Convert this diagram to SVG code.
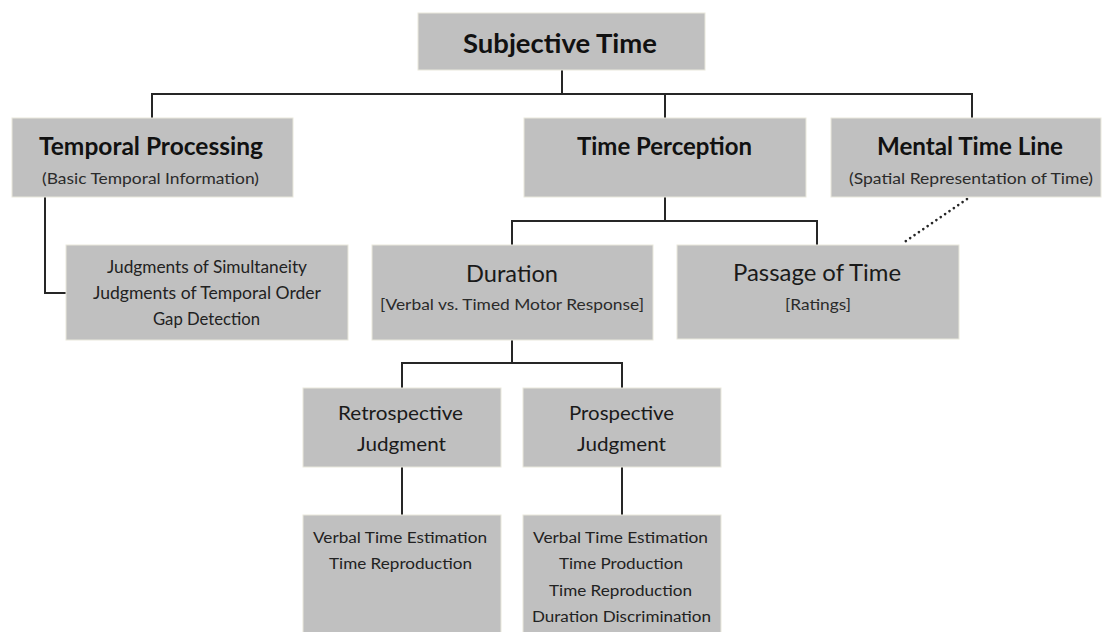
<svg xmlns="http://www.w3.org/2000/svg" width="1105" height="632" viewBox="0 0 1105 632">
<style>
.box{fill:#c0c0c0;stroke:#e9e8dc;stroke-width:1}
.conn{fill:none;stroke:#262626;stroke-width:2}
.dot{fill:none;stroke:#262626;stroke-width:2.6;stroke-linecap:round;stroke-dasharray:0.1 5.2}
text{font-family:Lato,"Open Sans","Liberation Sans",sans-serif;text-anchor:middle}
.h1{font-size:27px;font-weight:bold;fill:#111}
.h2{font-size:24px;font-weight:bold;fill:#111}
.sub{font-size:16px;fill:#2b2b2b}
.big{font-size:23px;fill:#1a1a1a}
.mid{font-size:20px;fill:#1a1a1a}
.item{font-size:17px;fill:#222}
.small{font-size:15.5px;fill:#222}
</style>
<rect width="1105" height="632" fill="#ffffff"/>
<g id="connectors">
<path class="conn" d="M562 70V94M152 118V94H972V118M665 94V118"/>
<path class="conn" d="M45 197V293H66"/>
<path class="conn" d="M665 197V221M512 245V221H817V245"/>
<path class="dot" d="M967 199L903 243"/>
<path class="conn" d="M512 340V363M402 388V363H622V388"/>
<path class="conn" d="M402 467V515M622 467V515"/>
</g>
<g id="subjective-time">
<rect class="box" x="418" y="13" width="287" height="57"/>
<text class="h1" x="560" y="53" textLength="194" lengthAdjust="spacingAndGlyphs">Subjective Time</text>
</g>
<g id="temporal-processing">
<rect class="box" x="12" y="118" width="281" height="79"/>
<text class="h2" x="151" y="155" textLength="224" lengthAdjust="spacingAndGlyphs">Temporal Processing</text>
<text class="sub" x="150.5" y="184" textLength="217" lengthAdjust="spacingAndGlyphs">(Basic Temporal Information)</text>
</g>
<g id="time-perception">
<rect class="box" x="524" y="118" width="282" height="79"/>
<text class="h2" x="664.5" y="155" textLength="175" lengthAdjust="spacingAndGlyphs">Time Perception</text>
</g>
<g id="mental-time-line">
<rect class="box" x="831" y="118" width="270" height="79"/>
<text class="h2" x="970" y="155" textLength="186" lengthAdjust="spacingAndGlyphs">Mental Time Line</text>
<text class="sub" x="971" y="184" textLength="244" lengthAdjust="spacingAndGlyphs">(Spatial Representation of Time)</text>
</g>
<g id="temporal-tasks">
<rect class="box" x="66" y="245" width="282" height="95"/>
<text class="item" x="207" y="273" textLength="200" lengthAdjust="spacingAndGlyphs">Judgments of Simultaneity</text>
<text class="item" x="207" y="299" textLength="228" lengthAdjust="spacingAndGlyphs">Judgments of Temporal Order</text>
<text class="item" x="206.5" y="325" textLength="107" lengthAdjust="spacingAndGlyphs">Gap Detection</text>
</g>
<g id="duration">
<rect class="box" x="372" y="245" width="281" height="95"/>
<text class="big" x="512" y="282" textLength="92" lengthAdjust="spacingAndGlyphs">Duration</text>
<text class="sub" x="512" y="310" textLength="264" lengthAdjust="spacingAndGlyphs">[Verbal vs. Timed Motor Response]</text>
</g>
<g id="passage-of-time">
<rect class="box" x="677" y="245" width="282" height="94"/>
<text class="big" x="817" y="281" textLength="168" lengthAdjust="spacingAndGlyphs">Passage of Time</text>
<text class="sub" x="818" y="310" textLength="66" lengthAdjust="spacingAndGlyphs">[Ratings]</text>
</g>
<g id="retrospective-judgment">
<rect class="box" x="303" y="388" width="198" height="79"/>
<text class="mid" x="400.5" y="420" textLength="125" lengthAdjust="spacingAndGlyphs">Retrospective</text>
<text class="mid" x="401.5" y="451" textLength="89" lengthAdjust="spacingAndGlyphs">Judgment</text>
</g>
<g id="prospective-judgment">
<rect class="box" x="523" y="388" width="198" height="79"/>
<text class="mid" x="621.5" y="420" textLength="105" lengthAdjust="spacingAndGlyphs">Prospective</text>
<text class="mid" x="621.5" y="451" textLength="89" lengthAdjust="spacingAndGlyphs">Judgment</text>
</g>
<g id="retrospective-methods">
<rect class="box" x="303" y="515" width="198" height="125"/>
<text class="small" x="400" y="543" textLength="174" lengthAdjust="spacingAndGlyphs">Verbal Time Estimation</text>
<text class="small" x="400.5" y="569" textLength="143" lengthAdjust="spacingAndGlyphs">Time Reproduction</text>
</g>
<g id="prospective-methods">
<rect class="box" x="523" y="515" width="198" height="125"/>
<text class="small" x="620.5" y="543" textLength="175" lengthAdjust="spacingAndGlyphs">Verbal Time Estimation</text>
<text class="small" x="621" y="569" textLength="124" lengthAdjust="spacingAndGlyphs">Time Production</text>
<text class="small" x="620.5" y="596" textLength="143" lengthAdjust="spacingAndGlyphs">Time Reproduction</text>
<text class="small" x="621.5" y="622" textLength="179" lengthAdjust="spacingAndGlyphs">Duration Discrimination</text>
</g>
</svg>
